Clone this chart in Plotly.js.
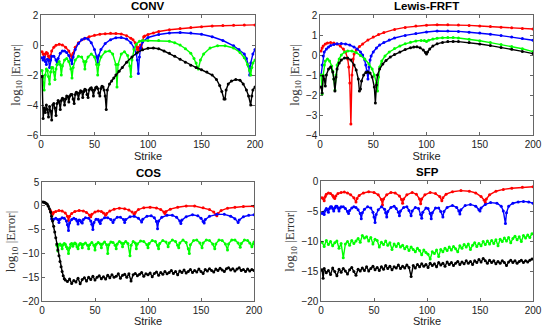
<!DOCTYPE html>
<html>
<head>
<meta charset="utf-8">
<script src="https://cdn.plot.ly/plotly-3.0.1.min.js"></script>
<style>
  html, body { margin: 0; padding: 0; background: #fff; }
  #chart { width: 545px; height: 327px; }
</style>
</head>
<body>
<div id="chart"></div>
<script>
// [strike, log10|error|]

// CONV panel
var convRed = [[1,-0.45],[2,-0.6],[3,-0.95],[4,-0.6],[5,-0.5],[6,-0.55],[7,-0.75],[8,-1.05],[9,-0.7],[10,-0.4],
  [12,-0.15],[14,-0.02],[17,0.05],[20,0.0],[23,-0.15],[26,-0.4],[28,-0.7],[29,-0.85],[30,-0.55],[32,-0.15],
  [35,0.15],[40,0.4],[45,0.55],[50,0.65],[55,0.72],[60,0.75],[65,0.78],[70,0.77],[75,0.73],[80,0.62],
  [84,0.45],[86,0.35],[88,0.15],[89,-0.05],[90,-0.3],[91,-0.15],[92,-0.35],[93,0.0],[94,-0.2],[95,0.3],
  [96,0.55],[97,0.6],[100,0.7],[105,0.8],[110,0.9],[120,1.02],[130,1.1],[140,1.17],[150,1.22],[160,1.27],
  [170,1.3],[180,1.32],[190,1.33],[200,1.34]];
var convBlue = [[1,-0.85],[2,-1.0],[3,-0.8],[4,-1.1],[5,-1.3],[6,-0.95],[7,-1.0],[8,-1.5],[9,-1.0],[10,-0.75],
  [12,-0.75],[14,-1.0],[15,-1.3],[16,-0.9],[18,-0.55],[20,-0.4],[22,-0.4],[24,-0.5],[26,-0.7],[28,-1.0],
  [29,-1.25],[30,-0.8],[32,-0.3],[35,0.1],[38,0.35],[41,0.45],[44,0.4],[47,0.15],[50,-0.3],[52,-0.8],
  [53,-1.2],[54,-0.7],[56,-0.3],[60,0.1],[65,0.35],[70,0.48],[75,0.5],[80,0.4],[84,0.15],[87,-0.2],
  [89,-0.6],[90,-1.0],[91,-1.9],[92,-0.8],[93,-0.2],[95,0.2],[100,0.5],[110,0.7],[120,0.8],[130,0.83],
  [140,0.8],[150,0.72],[160,0.55],[170,0.3],[180,-0.05],[185,-0.3],[190,-0.6],[192,-0.9],[194,-1.4],[195,-2.0],
  [196,-1.2],[198,-0.6],[200,-0.3]];
var convGreen = [[1,-1.7],[2,-2.2],[3,-3.0],[4,-2.0],[5,-1.6],[6,-1.7],[7,-2.1],[8,-2.6],[9,-1.8],[10,-1.5],
  [11,-1.5],[12,-1.8],[13,-2.3],[14,-1.6],[15,-1.3],[17,-1.1],[18,-1.3],[19,-2.0],[20,-1.4],[22,-1.0],
  [24,-0.9],[26,-1.1],[28,-1.6],[29,-2.2],[30,-1.5],[32,-1.0],[35,-0.75],[38,-0.8],[40,-1.1],[41,-1.6],
  [42,-1.1],[44,-0.8],[47,-0.6],[50,-0.8],[52,-1.3],[53,-2.0],[54,-1.3],[56,-0.8],[60,-0.45],[64,-0.4],
  [67,-0.6],[70,-1.3],[71,-2.8],[72,-1.3],[75,-0.6],[78,-0.45],[81,-0.7],[83,-1.4],[84,-2.1],[85,-1.0],
  [87,-0.3],[89,0.05],[92,0.25],[95,0.3],[100,0.3],[110,0.3],[120,0.25],[125,0.15],[130,0.0],[135,-0.25],
  [140,-0.55],[143,-0.9],[145,-1.2],[147,-1.6],[149,-1.0],[152,-0.6],[158,-0.2],[165,-0.05],[172,-0.05],[180,-0.2],
  [186,-0.5],[190,-0.85],[193,-1.3],[195,-1.7],[196,-2.0],[197,-1.5],[198,-1.2],[200,-1.0]];
var convBlack = [[1,-2.1],[2,-4.9],[3,-4.2],[4,-4.5],[5,-4.0],[6,-4.3],[7,-4.8],[8,-4.1],[9,-4.4],[10,-5.0],
  [11,-4.0],[12,-3.9],[13,-4.2],[14,-4.7],[15,-3.9],[16,-3.7],[17,-3.8],[18,-4.3],[19,-3.7],[20,-3.55],
  [21,-3.6],[22,-4.0],[23,-3.6],[24,-3.4],[25,-3.45],[26,-3.8],[27,-3.4],[28,-3.3],[29,-3.3],[30,-3.6],
  [31,-3.9],[32,-3.3],[33,-3.15],[34,-3.2],[35,-3.6],[36,-3.2],[37,-3.05],[38,-3.1],[39,-3.5],[40,-3.1],
  [41,-2.95],[42,-3.0],[43,-3.3],[44,-3.5],[45,-3.0],[46,-2.9],[47,-2.85],[48,-3.0],[49,-3.4],[50,-3.0],
  [51,-2.85],[52,-2.8],[53,-2.9],[54,-3.2],[55,-3.4],[56,-2.9],[57,-2.75],[58,-2.8],[59,-3.0],[60,-3.4],
  [61,-4.3],[62,-3.0],[64,-2.6],[66,-2.4],[68,-2.2],[70,-2.0],[73,-1.75],[76,-1.5],[80,-1.15],[85,-0.8],
  [90,-0.5],[95,-0.32],[100,-0.22],[105,-0.2],[110,-0.25],[115,-0.4],[120,-0.55],[125,-0.75],[130,-0.95],[135,-1.15],
  [140,-1.35],[145,-1.5],[150,-1.65],[155,-1.8],[160,-2.0],[164,-2.3],[167,-2.7],[169,-3.1],[171,-3.6],[172,-3.6],
  [173,-3.0],[175,-2.6],[178,-2.4],[182,-2.3],[186,-2.35],[189,-2.6],[192,-3.0],[194,-3.4],[196,-4.0],[197,-3.4],
  [198,-3.0],[200,-2.8]];

// Lewis-FRFT panel
var lewisRed = [[1,0.2],[2,0.35],[3,0.45],[5,0.55],[7,0.6],[10,0.62],[13,0.6],[16,0.55],[19,0.45],[22,0.3],
  [24,0.15],[26,-0.2],[27,-0.6],[28,-1.4],[29,-3.45],[30,-1.0],[31,-0.2],[32,0.05],[34,0.25],[37,0.42],
  [40,0.55],[45,0.75],[50,0.9],[55,1.02],[60,1.12],[70,1.28],[80,1.38],[90,1.45],[100,1.49],[110,1.51],
  [120,1.51],[130,1.5],[140,1.48],[150,1.45],[160,1.42],[170,1.39],[180,1.36],[190,1.33],[200,1.3]];
var lewisBlue = [[1,-1.0],[2,-0.5],[3,-0.05],[4,0.15],[6,0.3],[8,0.4],[10,0.47],[13,0.53],[16,0.56],[20,0.57],
  [24,0.55],[28,0.5],[32,0.4],[35,0.3],[38,0.15],[40,0.0],[42,-0.25],[43,-0.5],[44,-0.8],[45,-1.2],
  [46,-0.6],[47,-0.25],[48,-0.05],[50,0.15],[53,0.35],[56,0.5],[60,0.62],[65,0.75],[70,0.85],[80,0.98],
  [90,1.08],[100,1.15],[110,1.2],[120,1.2],[130,1.18],[140,1.14],[150,1.1],[160,1.04],[170,0.97],[180,0.9],
  [190,0.82],[200,0.74]];
var lewisGreen = [[1,-1.0],[2,-1.95],[3,-1.0],[4,-0.5],[5,-0.3],[7,-0.2],[9,-0.3],[11,-0.55],[12,-0.8],[13,-1.2],
  [14,-1.75],[15,-1.0],[16,-0.5],[18,-0.2],[20,0.0],[23,0.15],[26,0.2],[30,0.2],[34,0.12],[38,-0.02],
  [42,-0.2],[46,-0.45],[49,-0.7],[51,-1.0],[53,-1.4],[54,-1.8],[55,-1.1],[56,-0.6],[58,-0.3],[61,-0.05],
  [65,0.15],[70,0.32],[75,0.45],[80,0.56],[85,0.64],[90,0.7],[95,0.73],[98,0.72],[100,0.68],[102,0.74],
  [106,0.8],[110,0.84],[115,0.86],[120,0.87],[125,0.87],[130,0.85],[140,0.79],[150,0.71],[160,0.62],[170,0.52],
  [180,0.42],[190,0.31],[200,0.17]];
var lewisBlack = [[1,-1.6],[2,-1.9],[3,-1.05],[4,-1.2],[5,-1.55],[6,-1.0],[8,-0.7],[10,-0.6],[12,-0.85],[13,-1.2],
  [14,-1.8],[15,-1.1],[16,-0.7],[18,-0.4],[20,-0.25],[23,-0.15],[26,-0.15],[29,-0.25],[32,-0.5],[34,-0.75],
  [36,-1.2],[37,-1.8],[38,-1.7],[39,-1.3],[41,-1.0],[43,-0.88],[45,-0.85],[47,-0.9],[49,-1.1],[51,-1.6],
  [52,-2.4],[53,-1.5],[54,-1.0],[56,-0.7],[59,-0.45],[62,-0.28],[66,-0.1],[70,0.02],[75,0.15],[80,0.27],
  [85,0.36],[88,0.4],[91,0.41],[94,0.36],[97,0.25],[99,0.12],[100,0.05],[101,0.15],[103,0.3],[106,0.45],
  [110,0.56],[115,0.63],[120,0.67],[125,0.68],[130,0.67],[140,0.62],[150,0.55],[160,0.47],[170,0.38],[180,0.29],
  [190,0.18],[200,0.07]];

// COS panel
var cosRed = [[8,-1.0],[9,-1.4],[10,-1.8],[11,-1.4],[13,-1.2],[16,-1.0],[19,-1.1],[22,-1.5],[24,-2.2],[25,-3.1],
  [26,-2.2],[28,-1.6],[31,-1.2],[35,-1.0],[39,-1.1],[42,-1.4],[45,-2.0],[46,-2.3],[47,-1.8],[50,-1.3],
  [53,-1.1],[56,-1.2],[58,-1.5],[60,-2.0],[61,-1.6],[64,-1.1],[68,-0.7],[73,-0.5],[78,-0.6],[82,-0.9],
  [85,-1.3],[87,-1.8],[88,-1.4],[91,-0.8],[96,-0.4],[102,-0.3],[108,-0.45],[112,-0.8],[115,-1.3],[116,-1.6],
  [117,-1.2],[121,-0.7],[128,-0.3],[136,-0.05],[144,-0.05],[152,-0.4],[158,-0.8],[162,-1.3],[164,-1.9],[165,-2.1],
  [166,-1.6],[169,-1.0],[175,-0.5],[182,-0.3],[190,-0.15],[200,-0.1]];
var cosBlue = [[9,-2.7],[10,-3.0],[11,-2.8],[13,-2.6],[15,-2.9],[16,-3.5],[17,-2.8],[19,-2.5],[21,-2.6],[23,-3.2],
  [24,-4.0],[25,-5.2],[26,-3.6],[28,-2.9],[30,-2.6],[32,-2.8],[33,-3.2],[34,-3.8],[35,-3.0],[36,-3.1],
  [37,-3.4],[38,-3.6],[39,-2.9],[41,-2.5],[44,-2.6],[46,-3.2],[47,-3.9],[48,-5.0],[49,-3.5],[51,-2.8],
  [53,-2.9],[54,-3.3],[55,-3.7],[56,-3.0],[59,-2.5],[62,-2.5],[65,-2.9],[67,-3.5],[68,-3.0],[71,-2.4],
  [74,-2.4],[77,-2.9],[78,-3.5],[79,-2.9],[83,-2.3],[87,-2.2],[91,-2.6],[94,-3.4],[95,-2.8],[99,-2.2],
  [103,-2.1],[106,-2.5],[108,-3.3],[109,-4.8],[110,-3.2],[113,-2.4],[118,-2.0],[123,-2.0],[127,-2.4],[130,-3.2],
  [131,-3.7],[132,-3.0],[136,-2.3],[142,-1.9],[147,-2.1],[150,-2.6],[152,-3.3],[153,-3.6],[154,-2.9],[158,-2.2],
  [165,-1.8],[172,-1.8],[178,-2.2],[182,-2.7],[185,-3.5],[186,-3.0],[190,-2.3],[195,-2.0],[200,-1.9]];
var cosGreen = [[14,-8.3],[15,-9.5],[16,-8.2],[17,-8.0],[18,-8.3],[19,-9.0],[20,-8.2],[21,-7.9],[22,-8.1],[23,-8.6],
  [24,-9.0],[25,-10.0],[26,-8.8],[27,-8.1],[28,-7.9],[29,-8.5],[30,-8.0],[31,-7.8],[32,-8.0],[33,-8.6],
  [34,-9.0],[35,-8.2],[36,-7.9],[37,-8.0],[38,-8.8],[39,-8.1],[41,-7.8],[43,-8.3],[44,-9.0],[45,-8.2],
  [47,-7.7],[49,-8.3],[50,-9.3],[51,-8.1],[53,-7.7],[55,-8.0],[56,-8.8],[57,-8.0],[59,-7.6],[61,-8.2],
  [62,-10.0],[63,-8.2],[65,-7.6],[67,-7.7],[69,-8.3],[70,-9.0],[71,-8.0],[73,-7.5],[75,-7.8],[76,-8.6],
  [77,-7.9],[79,-7.5],[81,-7.9],[83,-10.5],[84,-8.3],[86,-7.5],[88,-7.8],[89,-9.0],[90,-8.0],[93,-7.4],
  [96,-7.5],[99,-8.2],[100,-8.8],[101,-7.9],[104,-7.3],[107,-7.5],[109,-8.3],[110,-9.0],[111,-7.9],[114,-7.3],
  [117,-7.6],[119,-8.6],[120,-7.8],[123,-7.2],[126,-7.5],[128,-8.3],[129,-8.8],[130,-7.8],[133,-7.2],[136,-7.7],
  [138,-9.0],[139,-10.0],[140,-8.2],[143,-7.3],[146,-7.2],[149,-7.8],[151,-8.8],[152,-7.8],[155,-7.2],[158,-7.3],
  [161,-8.0],[163,-9.0],[164,-8.0],[167,-7.2],[170,-7.3],[173,-8.0],[175,-9.3],[176,-8.0],[179,-7.2],[182,-7.2],
  [185,-7.8],[187,-8.7],[188,-7.9],[191,-7.2],[194,-7.3],[196,-7.8],[198,-8.6],[199,-8.0],[200,-7.6]];
var cosBlack = [[1,0.8],[2,0.75],[3,0.65],[4,0.5],[5,0.3],[6,-0.1],[7,-0.6],[8,-1.3],[9,-2.2],[10,-3.2],
  [11,-4.3],[12,-5.5],[13,-6.7],[14,-8.0],[15,-9.3],[16,-10.5],[17,-11.7],[18,-12.8],[19,-13.8],[20,-14.7],
  [21,-15.3],[22,-15.6],[24,-15.9],[26,-15.4],[28,-16.3],[30,-15.7],[32,-16.0],[34,-15.2],[36,-16.4],[38,-15.5],
  [40,-15.1],[42,-15.8],[44,-15.0],[46,-15.5],[48,-14.8],[50,-15.6],[52,-15.0],[54,-14.7],[56,-15.3],[58,-14.9],
  [60,-15.4],[62,-14.6],[64,-15.1],[66,-14.5],[68,-15.0],[70,-14.8],[72,-14.3],[74,-15.2],[76,-14.6],[78,-14.4],
  [80,-15.0],[82,-14.3],[84,-15.8],[86,-14.5],[88,-14.2],[90,-14.7],[92,-14.4],[94,-14.0],[96,-14.8],[98,-14.3],
  [100,-14.5],[102,-14.1],[104,-14.9],[106,-14.2],[108,-13.9],[110,-14.6],[112,-14.0],[114,-14.4],[116,-13.8],[118,-14.3],
  [120,-14.0],[122,-13.6],[124,-14.2],[126,-13.8],[128,-14.5],[130,-13.7],[132,-14.0],[134,-13.5],[136,-14.1],[138,-13.8],
  [140,-13.4],[142,-14.0],[144,-13.6],[146,-13.9],[148,-13.3],[150,-13.8],[152,-14.2],[154,-13.4],[156,-13.7],[158,-13.2],
  [160,-13.6],[162,-13.9],[164,-13.3],[166,-13.6],[168,-13.1],[170,-13.5],[172,-13.8],[174,-13.2],[176,-13.0],[178,-13.5],
  [180,-13.2],[182,-13.7],[184,-13.3],[186,-13.0],[188,-13.6],[190,-13.4],[192,-13.8],[194,-13.3],[196,-13.7],[198,-13.4],
  [200,-13.6]];

// SFP panel
var sfpRed = [[1,-2.8],[2,-2.9],[3,-3.3],[4,-2.6],[5,-2.2],[7,-2.0],[9,-2.1],[11,-2.4],[12,-2.7],[13,-2.9],
  [14,-2.5],[16,-2.1],[19,-1.9],[22,-1.85],[25,-2.0],[28,-2.3],[31,-2.8],[33,-3.5],[34,-2.9],[36,-2.4],
  [40,-2.0],[45,-1.8],[50,-1.9],[54,-2.3],[57,-3.1],[58,-4.0],[59,-3.0],[62,-2.3],[66,-1.9],[70,-2.0],
  [74,-2.5],[76,-3.1],[77,-3.7],[78,-3.0],[81,-2.3],[86,-1.9],[90,-2.2],[93,-3.0],[94,-3.8],[95,-3.0],
  [98,-2.3],[103,-1.9],[108,-2.1],[112,-2.6],[114,-3.3],[115,-2.8],[118,-2.2],[124,-1.8],[132,-1.6],[140,-1.7],
  [146,-2.0],[151,-2.6],[154,-3.2],[155,-3.6],[156,-3.0],[159,-2.3],[165,-1.7],[172,-1.4],[180,-1.2],[190,-1.05],
  [200,-0.95]];
var sfpBlue = [[1,-5.4],[2,-5.2],[3,-5.6],[4,-4.9],[5,-4.6],[6,-4.8],[7,-5.2],[8,-4.6],[9,-4.3],[10,-4.3],
  [11,-4.6],[12,-5.0],[13,-4.5],[14,-4.2],[15,-4.2],[16,-4.5],[17,-5.0],[18,-4.5],[19,-4.3],[21,-4.3],
  [23,-4.6],[25,-5.1],[26,-5.4],[27,-4.9],[29,-4.5],[31,-4.3],[33,-4.4],[35,-4.8],[37,-5.4],[38,-6.3],
  [39,-5.3],[41,-4.7],[44,-4.3],[47,-4.5],[49,-5.2],[50,-6.0],[51,-6.9],[52,-5.6],[54,-4.8],[57,-4.3],
  [60,-4.7],[61,-5.3],[62,-6.0],[63,-5.1],[66,-4.4],[69,-4.2],[71,-4.6],[73,-5.2],[74,-5.8],[75,-5.0],
  [78,-4.4],[81,-4.3],[83,-4.9],[85,-5.8],[86,-5.0],[89,-4.4],[92,-4.6],[94,-5.6],[95,-6.2],[96,-5.2],
  [99,-4.5],[101,-4.6],[103,-5.4],[104,-6.3],[105,-5.3],[108,-4.5],[111,-4.5],[113,-5.1],[115,-6.0],[116,-5.1],
  [119,-4.4],[124,-4.1],[128,-4.4],[130,-5.0],[131,-5.5],[132,-4.8],[136,-4.1],[141,-3.9],[146,-4.2],[149,-4.8],
  [150,-5.0],[151,-4.5],[155,-3.9],[160,-3.6],[166,-3.7],[170,-4.2],[172,-5.0],[174,-7.1],[175,-5.3],[177,-4.2],
  [181,-3.7],[186,-3.5],[191,-3.4],[196,-3.5],[200,-3.7]];
var sfpGreen = [[1,-10.2],[3,-10.9],[5,-9.9],[7,-10.6],[9,-10.1],[11,-10.8],[13,-10.3],[15,-10.0],[17,-11.2],[19,-10.4],
  [21,-12.8],[23,-10.5],[25,-10.1],[27,-10.7],[29,-9.9],[31,-10.4],[33,-10.0],[35,-9.6],[37,-10.2],[39,-9.1],
  [41,-9.5],[43,-9.3],[45,-10.0],[47,-9.4],[49,-10.5],[51,-9.7],[53,-9.9],[55,-11.0],[57,-10.2],[59,-10.6],
  [61,-10.0],[63,-10.7],[65,-10.3],[67,-11.4],[69,-10.5],[71,-10.9],[73,-10.4],[75,-11.0],[77,-10.7],[79,-11.3],
  [81,-10.9],[83,-11.6],[85,-11.0],[87,-11.4],[89,-11.8],[91,-11.2],[93,-11.6],[95,-12.3],[97,-11.5],[99,-11.9],
  [101,-12.2],[103,-13.0],[105,-11.8],[107,-12.1],[109,-11.5],[111,-12.6],[113,-11.4],[115,-11.8],[117,-11.2],[119,-11.6],
  [121,-11.0],[123,-11.5],[125,-10.9],[127,-11.3],[129,-11.8],[131,-10.8],[133,-11.2],[135,-10.6],[137,-11.0],[139,-10.5],
  [141,-11.4],[143,-10.7],[145,-10.3],[147,-10.9],[149,-10.4],[151,-10.8],[153,-10.1],[155,-10.6],[157,-10.0],[159,-10.5],
  [161,-9.9],[163,-10.4],[165,-9.8],[167,-10.8],[169,-9.7],[171,-10.1],[173,-9.5],[175,-10.0],[177,-9.4],[179,-10.3],
  [181,-9.6],[183,-9.2],[185,-9.8],[187,-9.3],[189,-10.1],[191,-9.1],[193,-9.5],[195,-9.0],[197,-9.4],[199,-8.8]];
var sfpBlack = [[1,-14.8],[2,-16.2],[3,-14.6],[5,-15.3],[7,-14.9],[9,-15.6],[11,-14.5],[13,-15.1],[15,-15.8],[17,-14.7],
  [19,-15.2],[21,-14.6],[23,-15.0],[25,-15.5],[27,-14.8],[29,-14.4],[31,-15.1],[33,-15.7],[35,-14.7],[37,-15.0],
  [39,-14.5],[41,-14.9],[43,-14.3],[45,-15.0],[47,-14.6],[49,-14.2],[51,-14.8],[53,-14.4],[55,-14.9],[57,-14.3],
  [59,-14.7],[61,-14.1],[63,-14.6],[65,-14.2],[67,-14.8],[69,-14.3],[71,-14.5],[73,-14.0],[75,-14.6],[77,-14.2],
  [79,-14.5],[81,-14.0],[83,-14.4],[85,-15.9],[87,-14.1],[89,-14.5],[91,-13.9],[93,-14.3],[95,-13.8],[97,-14.2],
  [99,-13.9],[101,-14.4],[103,-13.7],[105,-14.1],[107,-13.8],[109,-14.3],[111,-13.6],[113,-14.0],[115,-13.7],[117,-14.2],
  [119,-13.5],[121,-13.9],[123,-13.6],[125,-14.1],[127,-13.7],[129,-13.4],[131,-13.9],[133,-13.5],[135,-13.8],[137,-13.3],
  [139,-13.7],[141,-13.4],[143,-13.9],[145,-13.3],[147,-13.6],[149,-13.1],[151,-13.5],[153,-12.9],[155,-13.3],[157,-13.7],
  [159,-13.2],[161,-13.6],[163,-13.3],[165,-13.8],[167,-13.4],[169,-13.7],[171,-13.3],[173,-13.6],[175,-14.1],[177,-13.5],
  [179,-13.2],[181,-13.6],[183,-13.3],[185,-13.7],[187,-13.4],[189,-13.2],[191,-13.6],[193,-13.3],[195,-13.5],[197,-13.2],
  [199,-13.0]];

var panelTitles = ['CONV', 'Lewis-FRFT', 'COS', 'SFP'];
var yRanges = [[-6, 2], [-4, 2], [-20, 5], [-20, 0]];
var yTicks = [2, 1, 5, 5];

var RED = '#ff0000', BLUE = '#0000ff', GREEN = '#00ff00', BLACK = '#000000';

function trace(pts, color, xa, ya) {
  return {
    type: 'scatter',
    mode: 'lines+markers',
    x: pts.map(function (p) { return p[0]; }),
    y: pts.map(function (p) { return p[1]; }),
    xaxis: xa, yaxis: ya,
    line: {color: color, width: 1.4},
    marker: {color: color, size: 3},
    showlegend: false,
    hoverinfo: 'skip'
  };
}

var data = [
  trace(convRed, RED, 'x', 'y'), trace(convBlue, BLUE, 'x', 'y'),
  trace(convGreen, GREEN, 'x', 'y'), trace(convBlack, BLACK, 'x', 'y'),
  trace(lewisRed, RED, 'x2', 'y2'), trace(lewisBlue, BLUE, 'x2', 'y2'),
  trace(lewisGreen, GREEN, 'x2', 'y2'), trace(lewisBlack, BLACK, 'x2', 'y2'),
  trace(cosRed, RED, 'x3', 'y3'), trace(cosBlue, BLUE, 'x3', 'y3'),
  trace(cosGreen, GREEN, 'x3', 'y3'), trace(cosBlack, BLACK, 'x3', 'y3'),
  trace(sfpRed, RED, 'x4', 'y4'), trace(sfpBlue, BLUE, 'x4', 'y4'),
  trace(sfpGreen, GREEN, 'x4', 'y4'), trace(sfpBlack, BLACK, 'x4', 'y4')
];

var W = 545, H = 327;
// plot boxes in pixels: [left, right, top, bottom]
var boxes = [[41, 255, 15, 135], [320, 533, 15, 135], [42, 254, 182, 301], [321, 533, 181, 301]];

var tickFont = {family: 'Liberation Sans, Arial, sans-serif', size: 10, color: '#222'};

var layout = {
  width: W, height: H,
  margin: {l: 0, r: 0, t: 0, b: 0},
  paper_bgcolor: '#fff', plot_bgcolor: '#fff',
  annotations: []
};

boxes.forEach(function (b, i) {
  var n = i === 0 ? '' : String(i + 1);
  layout['xaxis' + n] = {
    domain: [b[0] / W, b[1] / W],
    anchor: 'y' + n,
    range: [0, 200], dtick: 50, tick0: 0,
    showgrid: false, zeroline: false,
    showline: true, mirror: 'ticks', linecolor: '#000', linewidth: 0.6,
    ticks: 'inside', ticklen: 3, tickcolor: '#000', tickwidth: 0.6,
    tickfont: tickFont,
    title: {text: 'Strike', font: {family: 'Liberation Sans, Arial, sans-serif', size: 11, color: '#222'}, standoff: i < 2 ? 1 : 3}
  };
  layout['yaxis' + n] = {
    domain: [1 - b[3] / H, 1 - b[2] / H],
    anchor: 'x' + n,
    range: yRanges[i], dtick: yTicks[i],
    showgrid: false, zeroline: false,
    showline: true, mirror: 'ticks', linecolor: '#000', linewidth: 0.6,
    ticks: 'inside', ticklen: 3, tickcolor: '#000', tickwidth: 0.6,
    tickfont: tickFont,
    title: {text: 'log<sub>10</sub> |Error|', font: {family: 'Liberation Serif, Times New Roman, serif', size: 13, color: '#333'}, standoff: 3}
  };
  layout.annotations.push({
    text: '<b>' + panelTitles[i] + '</b>',
    xref: 'paper', yref: 'paper',
    x: (b[0] + b[1]) / 2 / W, y: 1 - (b[2] - 9) / H,
    xanchor: 'center', yanchor: 'middle', showarrow: false,
    font: {family: 'Liberation Sans, Arial, sans-serif', size: 11.5, color: '#000'}
  });
});

Plotly.newPlot('chart', data, layout, {displayModeBar: false, staticPlot: true});
</script>
</body>
</html>
